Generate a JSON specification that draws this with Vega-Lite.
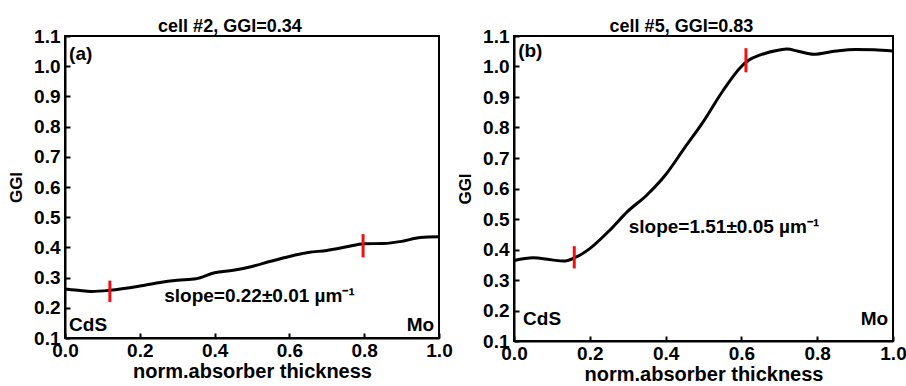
{
  "$schema": "https://vega.github.io/schema/vega-lite/v6.json",
  "background": "white",
  "padding": {"left": 6, "top": 17, "right": 0, "bottom": 0},
  "spacing": 1,
  "config": {
    "font": "Liberation Sans",
    "view": {"stroke": "black", "strokeWidth": 2},
    "axis": {
      "labelFont": "Liberation Sans", "labelFontWeight": "bold", "labelFontSize": 19, "labelColor": "black",
      "titleFont": "Liberation Sans", "titleFontWeight": "bold", "titleFontSize": 20, "titleColor": "black",
      "domainColor": "black", "domainWidth": 2, "tickColor": "black", "tickWidth": 2, "tickSize": -5,
      "grid": false, "labelOverlap": false
    },
    "axisX": {"labelPadding": 8, "titlePadding": 1, "labelFlush": false},
    "axisY": {"labelPadding": 10, "titlePadding": 8, "titleFontSize": 17},
    "title": {"font": "Liberation Sans", "fontWeight": "bold", "fontSize": 18, "color": "black", "offset": -9, "frame": "bounds"},
    "text": {"font": "Liberation Sans", "fontWeight": "bold", "fontSize": 19, "color": "black", "baseline": "middle"}
  },
  "hconcat": [
    {
      "title": "cell #2, GGI=0.34",
      "width": 374, "height": 302,
      "layer": [
        {
          "data": {"values": [
            {"x": 0.0, "y": 0.262}, {"x": 0.035, "y": 0.258}, {"x": 0.07, "y": 0.254}, {"x": 0.12, "y": 0.258},
            {"x": 0.2, "y": 0.272}, {"x": 0.25, "y": 0.283}, {"x": 0.3, "y": 0.291}, {"x": 0.35, "y": 0.296},
            {"x": 0.4, "y": 0.316}, {"x": 0.45, "y": 0.324}, {"x": 0.5, "y": 0.337}, {"x": 0.55, "y": 0.354},
            {"x": 0.6, "y": 0.37}, {"x": 0.65, "y": 0.383}, {"x": 0.7, "y": 0.39}, {"x": 0.75, "y": 0.401},
            {"x": 0.8, "y": 0.412}, {"x": 0.85, "y": 0.413}, {"x": 0.9, "y": 0.42}, {"x": 0.95, "y": 0.433},
            {"x": 1.0, "y": 0.435}
          ]},
          "mark": {"type": "line", "color": "black", "strokeWidth": 3, "interpolate": "monotone"},
          "encoding": {
            "x": {"field": "x", "type": "quantitative", "scale": {"domain": [0, 1], "nice": false},
                  "axis": {"title": "norm.absorber thickness", "values": [0, 0.2, 0.4, 0.6, 0.8, 1.0], "format": ".1f"}},
            "y": {"field": "y", "type": "quantitative", "scale": {"domain": [0.1, 1.1], "nice": false, "zero": false},
                  "axis": {"title": "GGI", "tickCount": 11, "format": ".1f"}}
          }
        },
        {
          "data": {"values": [{"x": 0.12, "y": 0.219, "y2": 0.29}, {"x": 0.797, "y": 0.367, "y2": 0.444}]},
          "mark": {"type": "rule", "color": "#f01010", "strokeWidth": 3},
          "encoding": {
            "x": {"field": "x", "type": "quantitative"},
            "y": {"field": "y", "type": "quantitative"},
            "y2": {"field": "y2"}
          }
        },
        {
          "data": {"values": [
            {"x": 0.011, "y": 1.04, "t": "(a)"},
            {"x": 0.011, "y": 0.143, "t": "CdS"}
          ]},
          "mark": {"type": "text", "align": "left"},
          "encoding": {
            "x": {"field": "x", "type": "quantitative"},
            "y": {"field": "y", "type": "quantitative"},
            "text": {"field": "t"}
          }
        },
        {
          "data": {"values": [{"x": 0.987, "y": 0.143, "t": "Mo"}]},
          "mark": {"type": "text", "align": "right"},
          "encoding": {
            "x": {"field": "x", "type": "quantitative"},
            "y": {"field": "y", "type": "quantitative"},
            "text": {"field": "t"}
          }
        },
        {
          "data": {"values": [{"x": 0.52, "y": 0.239, "t": "slope=0.22±0.01 µm⁻¹"}]},
          "mark": {"type": "text", "align": "center"},
          "encoding": {
            "x": {"field": "x", "type": "quantitative"},
            "y": {"field": "y", "type": "quantitative"},
            "text": {"field": "t"}
          }
        }
      ]
    },
    {
      "title": "cell #5, GGI=0.83",
      "width": 379, "height": 305,
      "layer": [
        {
          "data": {"values": [
            {"x": 0.0, "y": 0.364}, {"x": 0.05, "y": 0.373}, {"x": 0.1, "y": 0.366}, {"x": 0.13, "y": 0.362},
            {"x": 0.16, "y": 0.373}, {"x": 0.2, "y": 0.403}, {"x": 0.25, "y": 0.46}, {"x": 0.3, "y": 0.525},
            {"x": 0.35, "y": 0.578}, {"x": 0.4, "y": 0.645}, {"x": 0.45, "y": 0.733}, {"x": 0.5, "y": 0.82},
            {"x": 0.55, "y": 0.918}, {"x": 0.6, "y": 1.0}, {"x": 0.62, "y": 1.021}, {"x": 0.65, "y": 1.038},
            {"x": 0.7, "y": 1.054}, {"x": 0.72, "y": 1.057}, {"x": 0.75, "y": 1.05}, {"x": 0.79, "y": 1.04},
            {"x": 0.85, "y": 1.051}, {"x": 0.9, "y": 1.056}, {"x": 0.95, "y": 1.055}, {"x": 1.0, "y": 1.051}
          ]},
          "mark": {"type": "line", "color": "black", "strokeWidth": 3, "interpolate": "monotone"},
          "encoding": {
            "x": {"field": "x", "type": "quantitative", "scale": {"domain": [0, 1], "nice": false},
                  "axis": {"title": "norm.absorber thickness", "values": [0, 0.2, 0.4, 0.6, 0.8, 1.0], "format": ".1f"}},
            "y": {"field": "y", "type": "quantitative", "scale": {"domain": [0.1, 1.1], "nice": false, "zero": false},
                  "axis": {"title": "GGI", "tickCount": 11, "format": ".1f"}}
          }
        },
        {
          "data": {"values": [{"x": 0.159, "y": 0.338, "y2": 0.411}, {"x": 0.612, "y": 0.981, "y2": 1.06}]},
          "mark": {"type": "rule", "color": "#f01010", "strokeWidth": 3},
          "encoding": {
            "x": {"field": "x", "type": "quantitative"},
            "y": {"field": "y", "type": "quantitative"},
            "y2": {"field": "y2"}
          }
        },
        {
          "data": {"values": [
            {"x": 0.011, "y": 1.05, "t": "(b)"},
            {"x": 0.024, "y": 0.172, "t": "CdS"}
          ]},
          "mark": {"type": "text", "align": "left"},
          "encoding": {
            "x": {"field": "x", "type": "quantitative"},
            "y": {"field": "y", "type": "quantitative"},
            "text": {"field": "t"}
          }
        },
        {
          "data": {"values": [{"x": 0.987, "y": 0.172, "t": "Mo"}]},
          "mark": {"type": "text", "align": "right"},
          "encoding": {
            "x": {"field": "x", "type": "quantitative"},
            "y": {"field": "y", "type": "quantitative"},
            "text": {"field": "t"}
          }
        },
        {
          "data": {"values": [{"x": 0.554, "y": 0.474, "t": "slope=1.51±0.05 µm⁻¹"}]},
          "mark": {"type": "text", "align": "center"},
          "encoding": {
            "x": {"field": "x", "type": "quantitative"},
            "y": {"field": "y", "type": "quantitative"},
            "text": {"field": "t"}
          }
        }
      ]
    }
  ]
}
